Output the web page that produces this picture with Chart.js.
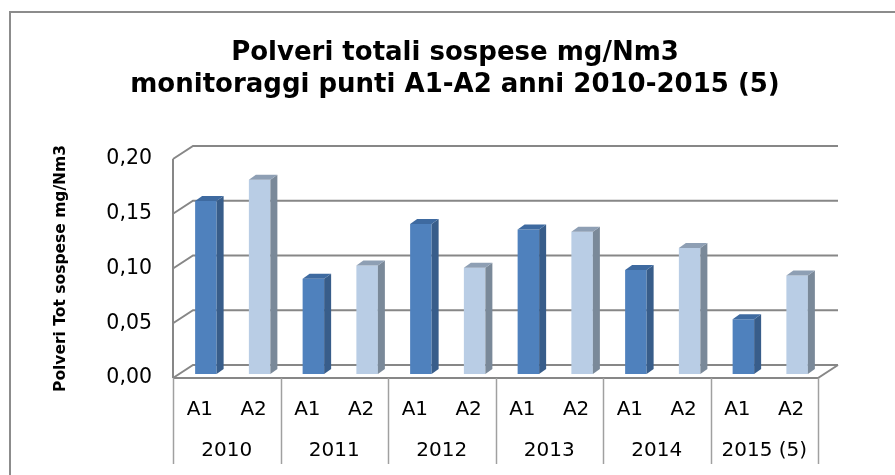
<!DOCTYPE html>
<html>
<head>
<meta charset="utf-8">
<script src="https://cdn.jsdelivr.net/npm/chart.js@4.4.1/dist/chart.umd.min.js"></script>
<style>
  html, body { margin: 0; padding: 0; background: #fff; }
</style>
</head>
<body>
<canvas id="chart" width="895" height="475"></canvas>
<script>
// data
const points = ['A1', 'A2', 'A1', 'A2', 'A1', 'A2', 'A1', 'A2', 'A1', 'A2', 'A1', 'A2'];
const years = ['2010', '2011', '2012', '2013', '2014', '2015 (5)'];
const values = [0.158, 0.1775, 0.087, 0.099, 0.137, 0.097, 0.132, 0.130, 0.095, 0.115, 0.050, 0.090];
const yTicks = [0, 0.05, 0.10, 0.15, 0.20];

const FONT = "'DejaVu Sans', Verdana, sans-serif";
const GRID = '#878787';
const WALL_DX = 20, WALL_DY = -13;   // depth of the back wall
const BAR_DX = 6, BAR_DY = -4;       // bars sit a bit behind the front edge
const SIDE_DX = 7, SIDE_DY = -5;     // depth of each column

const front = ['#4F81BD', '#B9CDE5'];
const side = ['#385D8A', '#7A8999'];
const top3d = ['#3E6AA0', '#8E9FB4'];

// white background + outer frame
const frame = {
  id: 'frame',
  beforeDraw(chart) {
    const ctx = chart.ctx;
    ctx.save();
    ctx.fillStyle = '#fff';
    ctx.fillRect(0, 0, chart.width, chart.height);
    ctx.strokeStyle = '#8c8c8c';
    ctx.lineWidth = 2;
    ctx.strokeRect(10, 12, chart.width + 20, chart.height + 20);
    ctx.restore();
  }
};

// 3d walls, floor and category separators
const walls = {
  id: 'walls',
  beforeDatasetsDraw(chart) {
    const ctx = chart.ctx;
    const { left, right, bottom } = chart.chartArea;
    const y = chart.scales.y;
    const x = chart.scales.x;
    ctx.save();
    ctx.strokeStyle = GRID;
    ctx.lineWidth = 2;
    yTicks.forEach((v) => {
      const py = y.getPixelForValue(v);
      ctx.beginPath();
      ctx.moveTo(left, py);
      ctx.lineTo(left + WALL_DX, py + WALL_DY);
      ctx.lineTo(right + WALL_DX, py + WALL_DY);
      ctx.stroke();
    });
    // floor front edge and right side
    ctx.beginPath();
    ctx.moveTo(left, bottom);
    ctx.lineTo(right, bottom);
    ctx.lineTo(right + WALL_DX, bottom + WALL_DY);
    ctx.stroke();
    // left front edge
    ctx.beginPath();
    ctx.moveTo(left, y.getPixelForValue(yTicks[yTicks.length - 1]));
    ctx.lineTo(left, bottom);
    ctx.stroke();

    // separators between the years
    const cw = (right - left) / points.length;
    ctx.strokeStyle = '#a0a0a0';
    ctx.lineWidth = 1.5;
    for (let i = 0; i <= years.length; i++) {
      const px = Math.round(x.getPixelForValue(i * 2) - cw / 2) + 0.5;
      ctx.beginPath();
      ctx.moveTo(px, bottom);
      ctx.lineTo(px, bottom + 86);
      ctx.stroke();
    }
    ctx.restore();
  },
  beforeDatasetDraw(chart) {
    chart.ctx.save();
    chart.ctx.translate(BAR_DX, BAR_DY);
  },
  afterDatasetDraw(chart, args) {
    const ctx = chart.ctx;
    args.meta.data.forEach((bar, i) => {
      const { x, y, base, width } = bar.getProps(['x', 'y', 'base', 'width'], true);
      const l = x - width / 2, r = x + width / 2;
      ctx.fillStyle = side[i % 2];
      ctx.beginPath();
      ctx.moveTo(r, y);
      ctx.lineTo(r + SIDE_DX, y + SIDE_DY);
      ctx.lineTo(r + SIDE_DX, base + SIDE_DY);
      ctx.lineTo(r, base);
      ctx.closePath();
      ctx.fill();
      ctx.fillStyle = top3d[i % 2];
      ctx.beginPath();
      ctx.moveTo(l, y);
      ctx.lineTo(l + SIDE_DX, y + SIDE_DY);
      ctx.lineTo(r + SIDE_DX, y + SIDE_DY);
      ctx.lineTo(r, y);
      ctx.closePath();
      ctx.fill();
    });
    ctx.restore();
  }
};

new Chart(document.getElementById('chart'), {
  type: 'bar',
  data: {
    labels: points,
    datasets: [{
      data: values,
      backgroundColor: values.map((v, i) => front[i % 2]),
      borderWidth: 0,
      barPercentage: 0.4,
      categoryPercentage: 1
    }]
  },
  options: {
    responsive: false,
    animation: false,
    layout: { padding: { left: 15, right: 0, top: 0, bottom: 0 } },
    plugins: {
      legend: { display: false },
      tooltip: { enabled: false },
      title: {
        display: true,
        text: ['Polveri totali sospese mg/Nm3', 'monitoraggi punti A1-A2 anni 2010-2015 (5)'],
        color: '#000',
        font: { family: FONT, size: 26, weight: 'bold', lineHeight: 32 / 26 },
        padding: { top: 37, bottom: 58 }
      }
    },
    scales: {
      y: {
        min: 0,
        max: 0.2,
        afterFit: (s) => { s.width = 158; },
        afterBuildTicks: (s) => { s.ticks = yTicks.map((v) => ({ value: v })); },
        ticks: {
          color: '#000',
          font: { family: FONT, size: 20.5 },
          padding: 21,
          callback: (v) => v.toFixed(2).replace('.', ',')
        },
        grid: { display: false, drawTicks: false },
        border: { display: false },
        title: {
          display: true,
          text: 'Polveri Tot sospese mg/Nm3',
          color: '#000',
          font: { family: FONT, size: 15.5, weight: 'bold', lineHeight: 1.2 },
          padding: { top: 36.7, bottom: 0 }
        }
      },
      // empty spacer that keeps the plot off the right edge
      y2: {
        position: 'right',
        afterFit: (s) => { s.width = 77; },
        ticks: { display: false },
        grid: { display: false, drawTicks: false },
        border: { display: false }
      },
      x: {
        afterFit: (s) => { s.height = 52; },
        ticks: { color: '#000', font: { family: FONT, size: 20 }, padding: 20, maxRotation: 0, autoSkip: false },
        grid: { display: false, drawTicks: false },
        border: { display: false }
      },
      x2: {
        type: 'category',
        axis: 'x',
        position: 'bottom',
        weight: 1,
        labels: years,
        offset: true,
        afterFit: (s) => { s.height = 45; },
        ticks: { color: '#000', font: { family: FONT, size: 20 }, padding: 9, maxRotation: 0, autoSkip: false },
        grid: { display: false, drawTicks: false },
        border: { display: false }
      }
    }
  },
  plugins: [frame, walls]
});
</script>
</body>
</html>
